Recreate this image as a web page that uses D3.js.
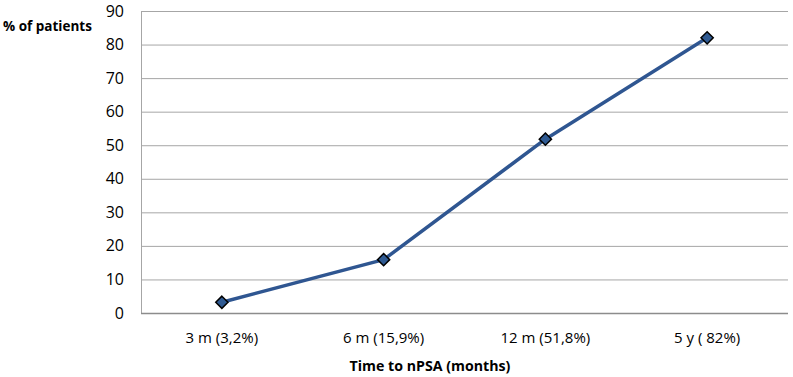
<!DOCTYPE html>
<html>
<head>
<meta charset="utf-8">
<script src="https://cdn.jsdelivr.net/npm/d3@7"></script>
<style>
  body { margin: 0; background: #fff; }
  svg text { font-family: "Open Sans", "Liberation Sans", sans-serif; fill: #000; }
</style>
</head>
<body>
<div id="chart"></div>
<script>
'use strict';

// ── Data ──────────────────────────────────────────────
const categories = ['3 m (3,2%)', '6 m (15,9%)', '12 m (51,8%)', '5 y ( 82%)'];
const patientPct = [3.2, 15.9, 51.8, 82];
const yTicks     = [0, 10, 20, 30, 40, 50, 60, 70, 80, 90];

const W = 793, H = 377;
const margin = { top: 11, right: 5, bottom: 64, left: 141 };

const svg = d3.select('#chart').append('svg')
    .attr('width', W)
    .attr('height', H);

const x = d3.scaleBand()
    .domain(categories)
    .range([margin.left, W - margin.right]);

const y = d3.scaleLinear()
    .domain([0, 90])
    .range([H - margin.bottom, margin.top]);

// ── Gridlines ─────────────────────────────────────────
svg.append('g')
    .selectAll('line')
    .data(yTicks.filter(d => d > 0))
    .join('line')
    .attr('x1', margin.left)
    .attr('x2', W - margin.right)
    .attr('y1', d => y(d) + 0.5)
    .attr('y2', d => y(d) + 0.5)
    .attr('stroke', '#a6a6a6')
    .attr('stroke-width', 1);

// Left axis line
svg.append('line')
    .attr('x1', margin.left + 0.5).attr('x2', margin.left + 0.5)
    .attr('y1', y(90)).attr('y2', y(0))
    .attr('stroke', '#a6a6a6');

// Bottom axis line
svg.append('line')
    .attr('x1', margin.left).attr('x2', W - margin.right)
    .attr('y1', y(0) + 0.5).attr('y2', y(0) + 0.5)
    .attr('stroke', '#8c8c8c')
    .attr('stroke-width', 1.5);

// ── Y tick labels ─────────────────────────────────────
svg.append('g')
    .selectAll('text')
    .data(yTicks)
    .join('text')
    .attr('x', 124)
    .attr('y', d => y(d))
    .attr('dy', '0.35em')
    .attr('text-anchor', 'end')
    .attr('font-size', 16)
    .text(d => d);

// ── X category labels ─────────────────────────────────
svg.append('g')
    .selectAll('text')
    .data(categories)
    .join('text')
    .attr('x', d => x(d) + x.bandwidth() / 2)
    .attr('y', 343)
    .attr('text-anchor', 'middle')
    .attr('font-size', 15)
    .text(d => d);

// ── Line + markers ────────────────────────────────────
const pts = categories.map((c, i) => ({ c, v: patientPct[i] }));

const line = d3.line()
    .x(d => x(d.c) + x.bandwidth() / 2)
    .y(d => y(d.v));

svg.append('path')
    .datum(pts)
    .attr('d', line)
    .attr('fill', 'none')
    .attr('stroke', '#2f5691')
    .attr('stroke-width', 3.5)
    .attr('stroke-linejoin', 'round');

svg.append('g')
    .selectAll('path')
    .data(pts)
    .join('path')
    .attr('transform', d => `translate(${x(d.c) + x.bandwidth() / 2},${y(d.v)})`)
    .attr('d', d3.symbol().type(d3.symbolDiamond2).size(95))
    .attr('fill', '#2f5a92')
    .attr('stroke', '#000')
    .attr('stroke-width', 1.5);

// ── Axis titles ───────────────────────────────────────
svg.append('text')
    .attr('x', 3)
    .attr('y', 31)
    .attr('font-size', 13.5)
    .attr('font-weight', 700)
    .text('% of patients');

svg.append('text')
    .attr('x', 430)
    .attr('y', 371)
    .attr('text-anchor', 'middle')
    .attr('font-size', 14.2)
    .attr('font-weight', 700)
    .text('Time to nPSA (months)');
</script>
</body>
</html>
